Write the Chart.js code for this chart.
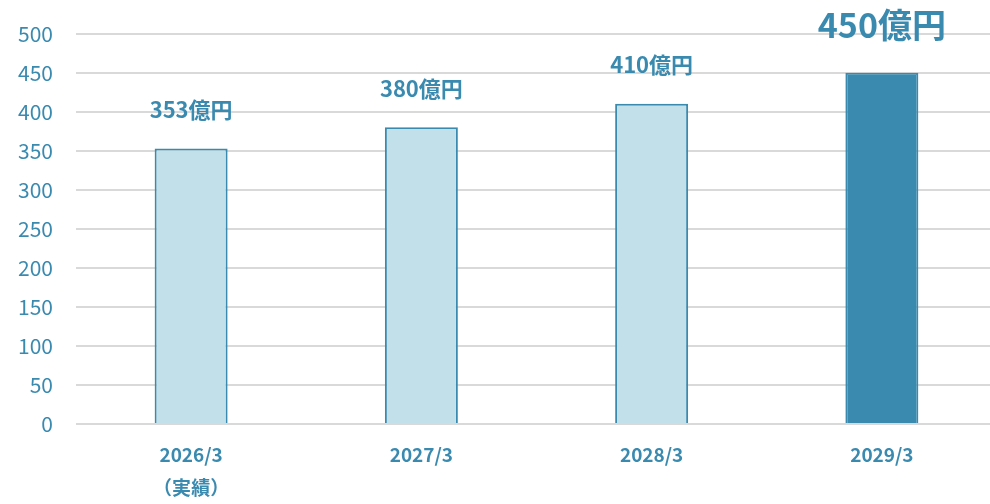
<!DOCTYPE html>
<html>
<head>
<meta charset="utf-8">
<script src="https://cdn.jsdelivr.net/npm/chart.js@4"></script>
<style>
    html, body { margin: 0; padding: 0; background: #fff; overflow: hidden; }
    #wrap { width: 997px; height: 506px; margin-top: -2px; }
</style>
</head>
<body>
<div id="wrap"><canvas id="bar-chart"></canvas></div>
<script>
var categories = [["2026/3", "（実績）"], "2027/3", "2028/3", "2029/3"];
var sales = [353, 380, 410, 450];
var valueLabels = ["353億円", "380億円", "410億円", "450億円"];
var yTicks = [0, 50, 100, 150, 200, 250, 300, 350, 400, 450, 500];

var blue = "#3a8ab0";
var lightBlue = "#c2e0ea";
var fontFamily = "'Noto Sans CJK JP', 'Noto Sans', sans-serif";

// ラベルを棒の上に描く
var valueLabelPlugin = {
    id: "valueLabels",
    afterDatasetsDraw: function (chart) {
        var ctx = chart.ctx;
        var meta = chart.getDatasetMeta(0);
        ctx.save();
        ctx.fillStyle = blue;
        ctx.textAlign = "center";
        ctx.textBaseline = "middle";
        meta.data.forEach(function (bar, i) {
            var last = i == meta.data.length - 1;
            ctx.font = "bold " + (last ? 34 : 22) + "px " + fontFamily;
            ctx.fillText(valueLabels[i], bar.x, bar.y - (last ? 48 : 39));
        });
        ctx.restore();
    }
};

new Chart(document.getElementById("bar-chart"), {
    type: "bar",
    data: {
        labels: categories,
        datasets: [{
            data: sales,
            backgroundColor: [lightBlue, lightBlue, lightBlue, blue],
            borderColor: blue,
            borderWidth: 2,
            borderSkipped: "bottom",
            categoryPercentage: 1,
            barPercentage: 0.317
        }]
    },
    options: {
        responsive: true,
        maintainAspectRatio: false,
        animation: false,
        layout: { padding: 0 },
        plugins: {
            legend: { display: false },
            tooltip: { enabled: false }
        },
        scales: {
            x: {
                afterFit: function (axis) {
                    axis.height = 80;
                },
                grid: { display: false },
                border: { display: false },
                ticks: {
                    color: blue,
                    font: { family: fontFamily, size: 19, weight: "bold", lineHeight: 1.75 },
                    padding: 6
                }
            },
            y: {
                min: 0,
                max: 500,
                afterBuildTicks: function (axis) {
                    axis.ticks = yTicks.map(function (v) { return { value: v }; });
                },
                afterFit: function (axis) {
                    axis.width = 76;
                },
                grid: { color: "#d9d9d9", lineWidth: 2, drawTicks: false },
                border: { display: false },
                ticks: {
                    color: blue,
                    font: { family: fontFamily, size: 21 },
                    padding: 23
                }
            }
        }
    },
    plugins: [valueLabelPlugin]
});
</script>
</body>
</html>
